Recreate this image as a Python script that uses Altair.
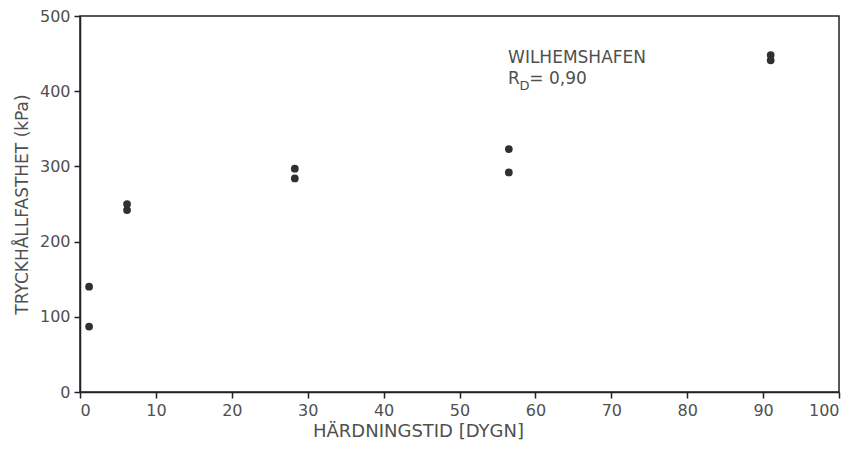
import altair as alt
import pandas as pd

days = [1.2, 1.2, 6.2, 6.2, 28.3, 28.3, 56.5, 56.5, 91, 91]
strength = [140, 87, 250, 242, 297, 284, 323, 292, 448, 441]

x_ticks = [0, 10, 20, 30, 40, 50, 60, 70, 80, 90, 100]
y_ticks = [0, 100, 200, 300, 400, 500]

df = pd.DataFrame({"days": days, "strength": strength})

FONT = "DejaVu Sans"
INK = "#505050"

x_enc = alt.X("days:Q", scale=alt.Scale(domain=[0, 100], nice=False, zero=True),
              axis=alt.Axis(values=x_ticks, title="HÄRDNINGSTID [DYGN]", grid=False,
                            titleX=338, titlePadding=4))
y_enc = alt.Y("strength:Q", scale=alt.Scale(domain=[0, 500], nice=False),
              axis=alt.Axis(values=y_ticks, title="TRYCKHÅLLFASTHET  (kPa)", grid=False,
                            titlePadding=8, titleFontSize=17))

points = alt.Chart(df).mark_circle(size=60, color="#303030", opacity=1).encode(x=x_enc, y=y_enc)

lab_df = pd.DataFrame({"x": [56.4], "y": [437], "t": ["WILHEMSHAFEN"]})
label1 = alt.Chart(lab_df).mark_text(align="left", baseline="alphabetic", font=FONT,
                                     fontSize=17, color=INK).encode(
    x="x:Q", y="y:Q", text="t:N")

r_df = pd.DataFrame({"x": [56.4], "y": [410], "t": ["R"]})
label_r = alt.Chart(r_df).mark_text(align="left", baseline="alphabetic", font=FONT,
                                    fontSize=17, color=INK).encode(x="x:Q", y="y:Q", text="t:N")
d_df = pd.DataFrame({"x": [57.9], "y": [401], "t": ["D"]})
label_d = alt.Chart(d_df).mark_text(align="left", baseline="alphabetic", font=FONT,
                                    fontSize=13, color=INK).encode(x="x:Q", y="y:Q", text="t:N")
v_df = pd.DataFrame({"x": [59.2], "y": [410], "t": ["= 0,90"]})
label_v = alt.Chart(v_df).mark_text(align="left", baseline="alphabetic", font=FONT,
                                    fontSize=17, color=INK).encode(x="x:Q", y="y:Q", text="t:N")

chart = alt.layer(points, label1, label_r, label_d, label_v).properties(
    width=759, height=376,
    autosize=alt.AutoSizeParams(type="none"),
    padding={"left": 72, "top": 8, "right": 7, "bottom": 50},
    background="white",
).configure_view(
    stroke="#222222", strokeWidth=1.5
).configure_axis(
    domainColor="#222222", domainWidth=1.5, tickColor="#222222", tickWidth=1.5, tickSize=6,
    labelFont=FONT, labelFontSize=16, labelColor=INK, labelPadding=4,
    titleFont=FONT, titleFontSize=18, titleColor=INK, titleFontWeight="normal",
)

chart.save("out.html", embed_options={"renderer": "svg", "actions": False})
